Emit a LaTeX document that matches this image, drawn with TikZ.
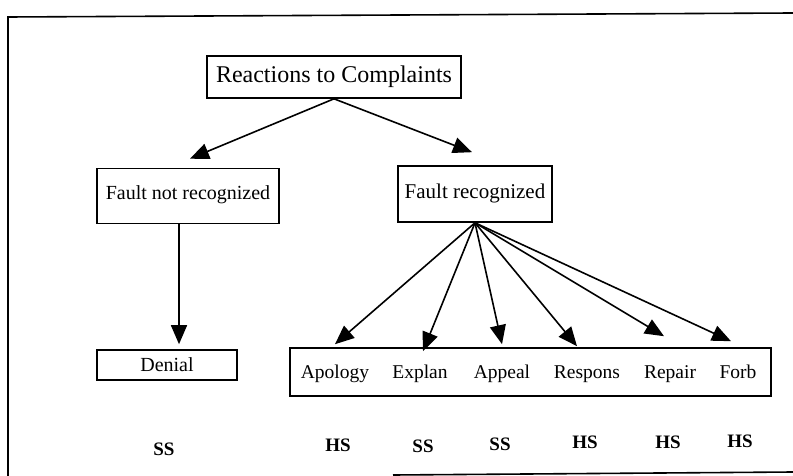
\documentclass[tikz,border=0pt]{standalone}
\usepackage{fontspec}
\setmainfont{Liberation Serif}
\usetikzlibrary{arrows.meta, positioning}
\tikzset{>={Triangle[length=19pt,width=16pt]}}
\tikzset{
  box/.style={draw, line width=1.6pt, inner sep=0pt},
  lab/.style={inner sep=0pt, text height=13pt, text depth=4pt, anchor=base, font=\fontsize{19.5}{21}\selectfont},
  face/.style={inner sep=0pt, font=\fontsize{19}{21}\selectfont\bfseries},
}

\begin{document}
\begin{tikzpicture}[x=1pt, y=-1pt, line width=1.6pt]
  \useasboundingbox (0,0) rectangle (793,476);
  % frame
  \draw (8,476)--(8,17)--(793,13);
  \draw (393,475)--(793,472);

  \node[box, minimum width=254pt, minimum height=42pt, font=\fontsize{24}{26}\selectfont] (react) at (334,77) {Reactions to Complaints};
  \node[box, minimum width=182pt, minimum height=55pt, text depth=6pt, font=\fontsize{20}{22}\selectfont] (notrec) at (188,196) {Fault not recognized};
  \node[box, minimum width=154pt, minimum height=56pt, text depth=6pt, font=\fontsize{21}{23}\selectfont] (rec) at (475,194) {Fault recognized};
  \node[box, minimum width=140pt, minimum height=30pt, font=\fontsize{20}{22}\selectfont] (denial) at (167,365) {Denial};
  \node[box, minimum width=481pt, minimum height=48pt] (row) at (530.5,372) {};

  \draw[->] (react.south) -- ([xshift=2pt,yshift=9pt]notrec.north);
  \draw[->] (react.south) -- ([xshift=-3pt,yshift=13pt]rec.north);
  \draw[->] ([xshift=-9pt]notrec.south) -- ([xshift=12pt,yshift=5pt]denial.north);

  \foreach \n/\x/\t/\dx/\dy in {apol/335/Apology/0/20, expl/420/Explan/3/13, appe/502/Appeal/0/20, resp/587/Respons/-10/18, repa/670/Repair/-6/28, forb/738/Forb/-7/23}
  {
    \node[lab] (\n) at (\x,378) {\t};
    \draw[->] (rec.south) -- ([xshift=\dx pt,yshift=\dy pt]\n.north);
  }

  \foreach \n/\x/\y/\t in {ssden/164/449/SS, hsapol/338/445/HS, ssexpl/423/446/SS, ssappe/500/444/SS, hsresp/585/442/HS, hsrepa/668/442/HS, hsforb/740/441/HS}
    \node[face] (\n) at (\x,\y) {\t};
\end{tikzpicture}
\end{document}
